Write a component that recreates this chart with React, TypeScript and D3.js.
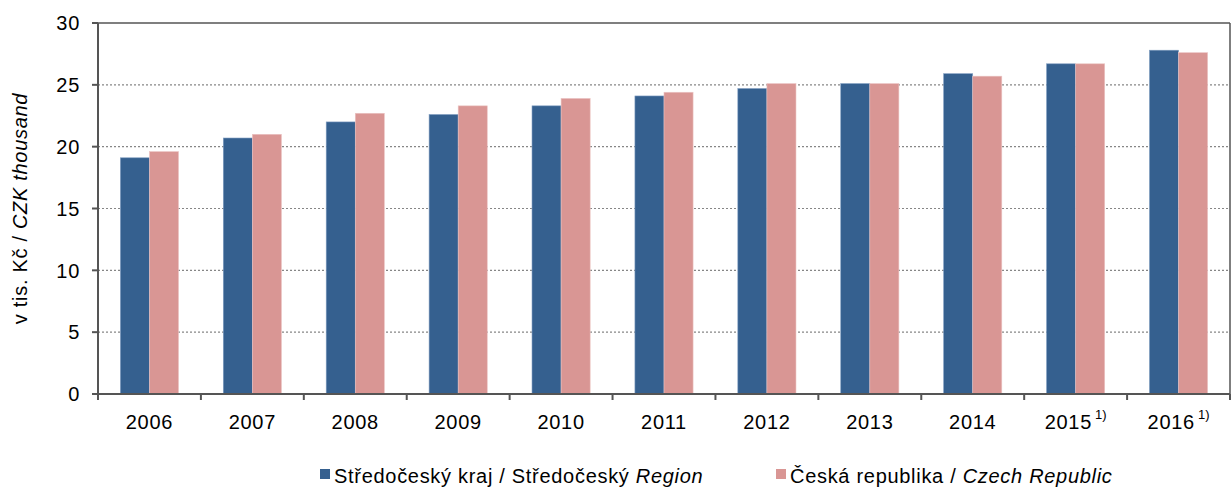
import React from 'react';
import * as d3 from 'd3';

const years = ['2006', '2007', '2008', '2009', '2010', '2011', '2012', '2013', '2014', '2015', '2016'];
const footnoted = ['2015', '2016'];
const regionValues = [19.1, 20.7, 22.0, 22.6, 23.3, 24.1, 24.7, 25.1, 25.9, 26.7, 27.8];
const czechValues = [19.6, 21.0, 22.7, 23.3, 23.9, 24.4, 25.1, 25.1, 25.7, 26.7, 27.6];
const yTicks = [0, 5, 10, 15, 20, 25, 30];

const seriesNames = [
  { plain: 'Středočeský kraj / Středočeský ', italic: 'Region', color: '#35608f' },
  { plain: 'Česká republika / ', italic: 'Czech Republic', color: '#d99694' },
];

const W = 1231;
const H = 487;
const margin = { top: 23, right: 1, bottom: 93, left: 98 };

const App: React.FC = () => {
  const innerW = W - margin.left - margin.right;
  const innerH = H - margin.top - margin.bottom;

  const x = d3.scaleBand().domain(years).range([0, innerW]).paddingInner(0.435).paddingOuter(0.2175);
  const sub = d3.scaleBand().domain(['a', 'b']).range([0, x.bandwidth()]);
  const y = d3.scaleLinear().domain([0, 30]).range([innerH, 0]);
  const step = x.step();

  const font = '"Liberation Sans", Arial, sans-serif';
  const fs = 20;
  const ls = 0.7;

  return (
    <svg width={W} height={H} style={{ position: 'absolute', left: 0, top: 0, fontFamily: font }}>
      <rect width={W} height={H} fill="#fff" />
      <g transform={`translate(${margin.left},${margin.top})`}>
        {/* grid */}
        {yTicks.filter(t => t > 0 && t < 30).map(t => (
          <line key={t} x1={0} x2={innerW} y1={y(t)} y2={y(t)} stroke="#868686" strokeWidth={1.2} strokeDasharray="2,2" />
        ))}
        {/* bars */}
        {years.map((yr, i) => (
          <g key={yr} transform={`translate(${x(yr)},0)`}>
            <rect x={sub('a')} y={y(regionValues[i])} width={sub.bandwidth()} height={innerH - y(regionValues[i])}
              fill={seriesNames[0].color} stroke="#7f9cc0" strokeWidth={0.6} />
            <rect x={sub('b')} y={y(czechValues[i])} width={sub.bandwidth()} height={innerH - y(czechValues[i])}
              fill={seriesNames[1].color} stroke="#ebc4c3" strokeWidth={0.6} />
          </g>
        ))}
        {/* frame */}
        <line x1={0} x2={innerW} y1={0} y2={0} stroke="#555" strokeWidth={1.5} />
        <line x1={innerW} x2={innerW} y1={0} y2={innerH} stroke="#555" strokeWidth={1.5} />
        <line x1={0} x2={0} y1={0} y2={innerH} stroke="#555" strokeWidth={2} />
        <line x1={0} x2={innerW} y1={innerH} y2={innerH} stroke="#555" strokeWidth={2} />
        {/* y ticks */}
        {yTicks.map(t => (
          <g key={t} transform={`translate(0,${y(t)})`}>
            <line x1={-6} x2={0} stroke="#555" strokeWidth={2} />
            <text x={-18} dy="0.36em" textAnchor="end" fontSize={fs} letterSpacing={ls} fill="#000">{t}</text>
          </g>
        ))}
        {/* x ticks */}
        {d3.range(years.length + 1).map(i => (
          <line key={i} x1={i * step} x2={i * step} y1={innerH} y2={innerH + 6} stroke="#555" strokeWidth={2} />
        ))}
        {years.map(yr => (
          <text key={yr} x={(x(yr) ?? 0) + x.bandwidth() / 2} y={innerH + 35} textAnchor="middle" fontSize={fs} letterSpacing={ls} fill="#000">
            {yr}
            {footnoted.includes(yr) && <tspan dx={3} dy={-10} fontSize={13} letterSpacing={0}>1)</tspan>}
          </text>
        ))}
      </g>
      {/* y axis title */}
      <text transform={`translate(27,${margin.top + innerH / 2}) rotate(-90)`} textAnchor="middle" fontSize={fs} letterSpacing={ls} fill="#000">
        v tis. Kč / <tspan fontStyle="italic">CZK thousand</tspan>
      </text>
      {/* legend */}
      {[320, 776].map((lx, i) => (
        <g key={i} transform={`translate(${lx},483)`}>
          <rect x={0} y={-14} width={10} height={10} fill={seriesNames[i].color} />
          <text x={14} y={0} fontSize={fs} letterSpacing={ls} fill="#000">
            {seriesNames[i].plain}<tspan fontStyle="italic">{seriesNames[i].italic}</tspan>
          </text>
        </g>
      ))}
    </svg>
  );
};

export default App;
